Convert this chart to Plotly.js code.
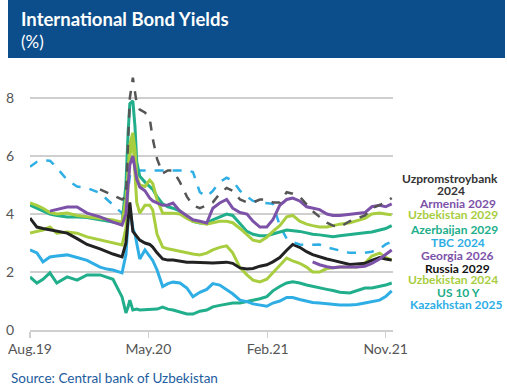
<!DOCTYPE html>
<html>
<head>
<meta charset="utf-8">
<script src="https://cdn.plot.ly/plotly-3.0.1.min.js"></script>
<style>
  html, body { margin: 0; padding: 0; background: #fff; }
  #chart { width: 507px; height: 392px; }
</style>
</head>
<body>
<div id="chart"></div>
<script>
// ---- Data ----
const dates = ["2019-08-01","2019-08-17","2019-08-31","2019-09-16","2019-10-02","2019-10-26","2019-11-18","2019-12-11",
  "2020-01-10","2020-01-26","2020-02-09","2020-03-01","2020-03-10","2020-03-15","2020-03-19","2020-03-26","2020-03-31",
  "2020-04-04","2020-04-11","2020-04-23","2020-05-04","2020-05-11","2020-05-21","2020-06-03","2020-06-15","2020-06-27",
  "2020-07-13","2020-07-29","2020-08-12","2020-08-28","2020-09-13","2020-09-27","2020-10-13","2020-10-29","2020-11-12",
  "2020-11-29","2020-12-15","2020-12-29","2021-01-14","2021-01-30","2021-02-13","2021-03-01","2021-03-17","2021-03-31",
  "2021-04-16","2021-05-02","2021-05-16","2021-06-01","2021-06-18","2021-07-02","2021-07-18","2021-08-10","2021-08-26",
  "2021-09-14","2021-09-30","2021-10-18","2021-11-01","2021-11-15"];

const uzprom2024 = [null,null,null,null,null,null,null,null,4.85,4.75,4.65,4.5,4.6,6.5,8.0,8.7,8.2,7.8,7.6,7.5,7.3,6.6,5.9,5.4,5.5,5.5,5.1,4.6,4.3,4.2,4.3,4.4,4.7,4.9,4.8,4.5,4.4,4.4,4.5,4.5,4.4,4.4,4.75,4.7,4.6,4.35,4.1,3.9,3.7,3.6,3.55,3.75,3.85,3.95,4.2,4.3,4.4,4.55];
const armenia2029 = [null,null,null,4.1,4.15,4.24,4.24,4.03,3.9,3.8,3.72,3.62,4.0,5.0,5.7,6.0,5.6,5.2,4.93,4.8,4.55,4.45,4.38,4.3,4.31,4.38,4.1,3.95,3.8,3.75,3.69,4.2,4.38,4.5,4.2,4.05,4.0,3.75,3.55,3.55,3.8,4.3,4.5,4.55,4.45,4.25,4.2,4.15,4.0,3.95,3.95,4.0,4.03,4.05,4.25,4.3,4.25,4.35];
const uzbekistan2029 = [4.38,4.3,4.2,4.05,4.0,4.03,3.95,3.9,3.86,3.82,3.79,3.72,4.5,5.5,6.4,6.8,6.2,5.3,5.0,4.95,5.17,5.05,4.5,4.03,4.03,4.03,4.0,3.85,3.75,3.7,3.65,3.7,3.75,3.75,3.7,3.5,3.3,3.1,3.05,3.2,3.4,3.6,3.9,3.95,3.75,3.65,3.6,3.55,3.55,3.6,3.65,3.7,3.78,3.85,4.0,4.03,4.0,3.97];
const azerbaijan2029 = [4.31,4.2,4.1,4.0,3.95,3.9,3.9,3.88,3.8,3.75,3.72,3.69,5.0,6.8,7.8,7.9,7.0,5.8,5.3,5.1,4.95,4.85,4.6,4.35,4.25,4.2,4.1,3.9,3.75,3.69,3.69,3.8,3.9,4.0,3.95,3.65,3.4,3.3,3.25,3.25,3.3,3.38,3.45,3.43,3.4,3.35,3.3,3.28,3.25,3.22,3.25,3.28,3.3,3.35,3.38,3.45,3.5,3.6];
const tbc2024 = [5.63,5.8,5.85,5.84,5.6,5.17,4.95,4.9,4.72,4.5,4.3,4.03,4.2,4.8,5.3,5.5,5.5,5.52,5.52,5.52,5.52,5.52,5.52,5.5,5.5,5.52,5.52,5.5,5.45,4.75,4.6,4.8,5.1,5.25,5.15,4.8,4.6,4.45,4.4,4.38,4.35,3.6,3.15,3.03,2.95,2.93,2.93,2.95,2.85,2.8,2.75,2.66,2.66,2.66,2.7,2.8,2.95,3.05];
const georgia2026 = [null,null,null,null,null,null,null,null,null,null,null,null,null,null,null,null,null,null,null,null,null,null,null,null,null,null,null,null,null,null,null,null,null,null,null,null,null,null,null,null,null,null,null,null,null,null,2.35,2.25,2.18,2.15,2.17,2.17,2.17,2.2,2.3,2.45,2.6,2.76];
const russia2029 = [3.86,3.55,3.5,3.45,3.4,3.34,3.15,2.95,2.8,2.7,2.62,2.52,3.0,3.8,4.4,3.4,3.3,3.2,3.1,3.0,2.95,2.86,2.66,2.45,2.41,2.41,2.38,2.34,2.34,2.34,2.32,2.31,2.33,2.34,2.3,2.14,2.1,2.12,2.2,2.25,2.35,2.5,2.75,2.95,2.85,2.7,2.6,2.52,2.45,2.4,2.35,2.26,2.28,2.3,2.4,2.5,2.45,2.41];
const uzbekistan2024 = [3.34,3.4,3.45,3.55,3.34,3.38,3.34,3.21,3.1,3.05,3.0,2.93,3.5,4.8,6.0,6.6,5.5,4.4,4.03,4.3,4.3,4.14,3.3,2.86,2.8,2.76,2.7,2.66,2.62,2.59,2.65,2.76,2.85,2.9,2.66,2.15,1.9,1.72,1.66,1.75,1.97,2.2,2.48,2.38,2.3,2.17,2.0,2.0,2.12,2.15,2.17,2.17,2.17,2.3,2.55,2.65,2.5,2.41];
const us10y = [1.83,1.62,1.75,1.97,1.62,1.83,1.72,1.9,1.9,1.82,1.75,1.14,0.59,0.8,1.03,0.69,0.7,0.72,0.69,0.7,0.69,0.7,0.72,0.79,0.72,0.69,0.62,0.55,0.55,0.65,0.69,0.8,0.85,0.9,0.93,0.93,0.98,1.03,1.08,1.15,1.35,1.5,1.62,1.66,1.62,1.55,1.5,1.45,1.4,1.36,1.3,1.28,1.35,1.45,1.45,1.5,1.55,1.62];
const kazakhstan2025 = [2.76,2.66,2.35,2.52,2.55,2.59,2.5,2.4,2.17,2.1,2.07,1.97,2.6,3.8,4.2,3.5,3.3,3.0,2.45,2.76,2.55,2.4,2.07,1.5,1.6,1.65,1.62,1.45,1.15,1.3,1.4,1.6,1.55,1.38,1.25,1.03,0.98,0.9,0.85,0.82,0.93,1.0,1.12,1.12,1.05,1.0,0.95,0.93,0.9,0.87,0.86,0.86,0.88,0.93,0.97,1.03,1.15,1.35];

const tickDates = ["2019-08-01","2020-05-01","2021-02-01","2021-11-01"];
const tickLabels = ["Aug.19","May.20","Feb.21","Nov.21"];
const yTicks = [0,2,4,6,8];

const seriesLabels = ["Uzpromstroybank","2024","Armenia 2029","Uzbekistan 2029","Azerbaijan 2029","TBC 2024",
  "Georgia 2026","Russia 2029","Uzbekistan 2024","US 10 Y","Kazakhstan 2025"];

// ---- Styles ----
const C = {
  gray: "#555555", purple: "#7c52a9", lime: "#a8ce3f", teal: "#21ae8a",
  blue: "#2eaee5", black: "#222222"
};

function tr(name, y, color, dash, width) {
  return { type: "scatter", mode: "lines", name: name, x: dates, y: y,
    connectgaps: false, hoverinfo: "skip",
    line: { color: color, width: width || 3, dash: dash || "solid" } };
}

const traces = [
  tr("US 10 Y", us10y, C.teal),
  tr("Kazakhstan 2025", kazakhstan2025, C.blue),
  tr("Uzbekistan 2024", uzbekistan2024, C.lime),
  tr("Russia 2029", russia2029, C.black),
  tr("Georgia 2026", georgia2026, C.purple),
  tr("TBC 2024", tbc2024, C.blue, "dash", 2.5),
  tr("Azerbaijan 2029", azerbaijan2029, C.teal),
  tr("Uzbekistan 2029", uzbekistan2029, C.lime),
  tr("Armenia 2029", armenia2029, C.purple),
  tr("Uzpromstroybank 2024", uzprom2024, C.gray, "dash", 2.5)
];

// pixel helpers for paper-coordinates (plot area: x 30..393, y 69..330)
const L = 30, R = 393, T = 69, B = 330;
const px = v => (v - L) / (R - L);
const py = v => (B - v) / (B - T);

const labelSpecs = [
  [seriesLabels[0], 450, 178.3, "#333333"],
  [seriesLabels[1], 450.5, 190.7, "#333333"],
  [seriesLabels[2], 457, 203.3, C.purple],
  [seriesLabels[3], 452.5, 214.5, C.lime],
  [seriesLabels[4], 454, 229.3, C.teal],
  [seriesLabels[5], 458, 242.3, C.blue],
  [seriesLabels[6], 457, 255, C.purple],
  [seriesLabels[7], 457.5, 268.5, "#111111"],
  [seriesLabels[8], 452.5, 279, C.lime],
  [seriesLabels[9], 458, 292, C.teal],
  [seriesLabels[10], 456, 304, C.blue]
];

const annotations = labelSpecs.map(s => ({
  xref: "paper", yref: "paper", x: px(s[1]), y: py(s[2]),
  xanchor: "center", yanchor: "middle", showarrow: false, align: "center",
  borderpad: 0,
  text: "<b>" + s[0] + "</b>",
  font: { family: "Lato, 'Open Sans', sans-serif", size: 12, color: s[3] }
}));

annotations.push({
  xref: "paper", yref: "paper", x: px(19), y: py(19), xanchor: "left", yanchor: "middle",
  showarrow: false, text: "<b>International Bond Yields</b>",
  font: { family: "Lato, sans-serif", size: 18.5, color: "#ffffff" }
});
annotations.push({
  xref: "paper", yref: "paper", x: px(19), y: py(41), xanchor: "left", yanchor: "middle",
  showarrow: false, text: "(%)",
  font: { family: "Lato, sans-serif", size: 17, color: "#ffffff" }
});
annotations.push({
  xref: "paper", yref: "paper", x: px(9), y: py(378), xanchor: "left", yanchor: "middle",
  showarrow: false, text: "Source: Central bank of Uzbekistan",
  font: { family: "Lato, sans-serif", size: 13.5, color: "#1d5c9e" }
});

const layout = {
  width: 507, height: 392,
  margin: { l: L, r: 507 - R, t: T, b: 392 - B, pad: 0 },
  paper_bgcolor: "#ffffff", plot_bgcolor: "#ffffff",
  showlegend: false,
  font: { family: "Lato, sans-serif", color: "#555555", size: 14 },
  xaxis: {
    type: "date", range: ["2019-08-01", "2021-11-18"],
    tickvals: tickDates, ticktext: tickLabels,
    showgrid: false, zeroline: false,
    showline: true, linecolor: "#cfcfcf", linewidth: 1.5,
    ticks: "outside", ticklen: 6, tickwidth: 1.5, tickcolor: "#cfcfcf",
    tickfont: { family: "Lato, sans-serif", size: 14, color: "#555555" }
  },
  yaxis: {
    range: [0, 9], tickvals: yTicks,
    showgrid: true, gridcolor: "#cfcfcf", gridwidth: 1.5,
    zeroline: false, showline: false,
    ticks: "outside", ticklen: 12, tickcolor: "rgba(0,0,0,0)",
    tickfont: { family: "Lato, sans-serif", size: 14, color: "#555555" }
  },
  shapes: [{
    type: "rect", xref: "paper", yref: "paper",
    x0: px(8), x1: px(505), y0: py(58), y1: py(0),
    fillcolor: "#0c4e8b", line: { width: 0 }, layer: "below"
  }],
  annotations: annotations
};

Plotly.newPlot("chart", traces, layout, { staticPlot: true, displayModeBar: false });
</script>
</body>
</html>
